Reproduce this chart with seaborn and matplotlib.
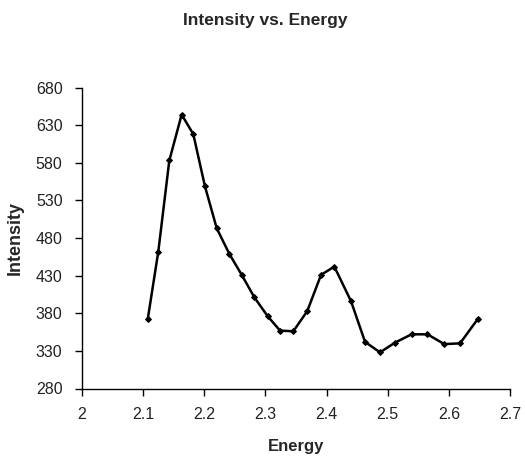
import matplotlib
matplotlib.use("Agg")
import matplotlib.pyplot as plt
import numpy as np
import pandas as pd
import seaborn as sns

# values
energy = [2.1075, 2.1248, 2.1428, 2.163, 2.182, 2.201, 2.2203, 2.2409, 2.2612,
          2.282, 2.3037, 2.3238, 2.3456, 2.3685, 2.3909, 2.4127, 2.44, 2.4629,
          2.4874, 2.512, 2.539, 2.565, 2.5925, 2.6183, 2.647]
intensity = [372, 462, 583, 644, 618, 549, 493, 459, 431, 401, 376, 357, 356,
             383, 431, 442, 396, 342, 328, 341, 352, 352, 339, 340, 372]
x_ticks = [2, 2.1, 2.2, 2.3, 2.4, 2.5, 2.6, 2.7]
x_tick_labels = ["2", "2.1", "2.2", "2.3", "2.4", "2.5", "2.6", "2.7"]
y_ticks = [280, 330, 380, 430, 480, 530, 580, 630, 680]

df = pd.DataFrame({"Energy": energy, "Intensity": intensity})

sns.set_style("ticks")
plt.rcParams["font.family"] = ["Liberation Sans", "DejaVu Sans"]

fig = plt.figure(figsize=(5.25, 4.62), dpi=100)
ax = fig.add_axes([82 / 525, 1 - 388.5 / 462, 428 / 525, 301 / 462])

sns.lineplot(data=df, x="Energy", y="Intensity", ax=ax, sort=False,
             color="black", linewidth=1.8, marker="D", markersize=3,
             markeredgecolor="black", markerfacecolor="black")

ax.set_xlim(2, 2.7)
ax.set_ylim(280, 680)
ax.set_xticks(x_ticks)
ax.set_xticklabels(x_tick_labels)
ax.set_yticks(y_ticks)
ax.tick_params(axis="both", direction="out", length=5, width=1,
               color="black", labelsize=11.5, labelcolor="#222222")
ax.tick_params(axis="x", pad=8)
ax.tick_params(axis="y", pad=9)

for side in ["top", "right"]:
    ax.spines[side].set_visible(False)
for side in ["left", "bottom"]:
    ax.spines[side].set_color("black")
    ax.spines[side].set_linewidth(1)

ax.set_xlabel("Energy", fontsize=12, fontweight="bold")
ax.set_ylabel("Intensity", fontsize=13, fontweight="bold")
ax.xaxis.set_label_coords(0.5, -0.168)
ax.yaxis.set_label_coords(-0.135, 0.5)

fig.text(265 / 525, 1 - 20 / 462, "Intensity vs. Energy", ha="center",
         va="center", fontsize=12.5, fontweight="bold")

fig.savefig("out.png", dpi=100, facecolor="white")
